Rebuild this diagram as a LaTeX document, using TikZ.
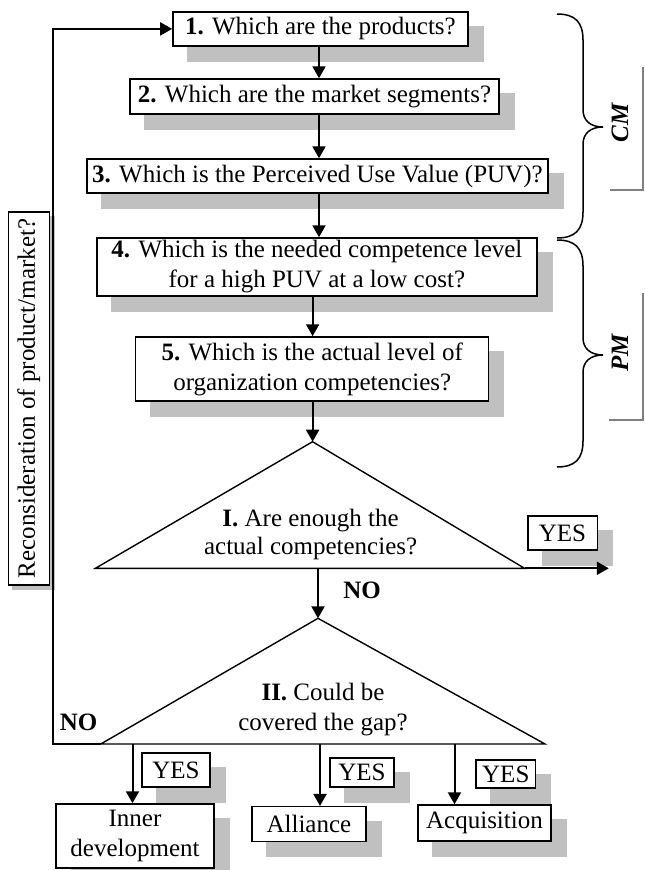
\documentclass[tikz,border=0pt]{standalone}
\usepackage{fontspec}
\setmainfont{Liberation Serif}
\usetikzlibrary{arrows.meta,backgrounds}
\definecolor{shadowgray}{RGB}{192,192,192}
\definecolor{labelgray}{RGB}{128,128,128}
\begin{document}
\begin{tikzpicture}[x=1pt,y=-1pt,
  txt/.style={font=\fontsize{25}{30}\selectfont, align=center},
  box/.style={txt, draw, fill=white, line width=1.5pt, inner sep=0pt},
  arr/.style={line width=2pt, -{Triangle[length=12pt,width=13pt]}},
  tri/.style={line width=1.4pt, line join=miter},
  bracestyle/.style={line width=1.5pt},
  lbl/.style={font=\fontsize{25}{30}\selectfont\bfseries\itshape},
  nolbl/.style={font=\fontsize{25}{30}\selectfont\bfseries},
]
\useasboundingbox (0,0) rectangle (645,870);

% process boxes
\node[box, minimum width=295pt, minimum height=34pt] (b1) at (320.4,28.9) {\textbf{1.} Which are the products?};
\node[box, minimum width=369pt, minimum height=35pt] (b2) at (314.5,96.5) {\textbf{2.} Which are the market segments?};
\node[box, minimum width=461pt, minimum height=34pt] (b3) at (317.4,176) {\textbf{3.} Which is the Perceived Use Value (PUV)?};
\node[box, minimum width=440pt, minimum height=58pt] (b4) at (316.9,267) {\textbf{4.} Which is the needed competence level\\for a high PUV at a low cost?};
\node[box, minimum width=353pt, minimum height=64pt] (b5) at (312.2,369) {\textbf{5.} Which is the actual level of\\organization competencies?};

% reconsideration box
\node[box, rotate=90, minimum width=373pt, minimum height=41pt] (rec) at (28.8,398.5) {Reconsideration of product/market?};

% YES boxes
\node[box, minimum width=69.5pt, minimum height=34.3pt] (yesI) at (562.5,532.9) {YES};
\node[box, minimum width=68pt, minimum height=34.3pt] (y1) at (176,769.9) {YES};
\node[box, minimum width=63.7pt, minimum height=29.3pt] (y2) at (361.9,772.4) {YES};
\node[box, minimum width=59.6pt, minimum height=28pt] (y3) at (505.8,774) {YES};

% outcome boxes
\node[box, minimum width=158pt, minimum height=64pt] (inner) at (135,836) {Inner\\development};
\node[box, minimum width=114.3pt, minimum height=35pt] (alli) at (308.9,824.2) {Alliance};
\node[box, minimum width=133pt, minimum height=35.7pt] (acq) at (484.5,822.9) {Acquisition};

% shadows
\begin{scope}[on background layer]
  \foreach \n in {b1,b2,b3,b4,b5,yesI,y1,y2,y3,inner,alli,acq} {
    \fill[shadowgray] ([shift={(15pt,-15pt)}]\n.south west) rectangle ([shift={(15pt,-15pt)}]\n.north east);
  }
  \fill[shadowgray] ([shift={(4.5pt,-4.5pt)}]rec.south west) rectangle ([shift={(4.5pt,-4.5pt)}]rec.north east);
\end{scope}

% decision triangles
\coordinate (tIa) at (312.6,441.7);
\coordinate (tIl) at (95.4,568.3);
\coordinate (tIr) at (524.5,568.3);
\draw[tri] (tIa) -- (tIl) -- (tIr) -- cycle;
\node[txt, font=\fontsize{25}{28}\selectfont] (tIt) at (310.6,534) {\textbf{I.} Are enough the\\actual competencies?};

\coordinate (tIIa) at (318,618.3);
\coordinate (tIIl) at (100.8,744);
\coordinate (tIIr) at (545,744);
\draw[tri] (tIIa) -- (tIIl) -- (tIIr) -- cycle;
\node[txt] (tIIt) at (323,710) {\textbf{II.} Could be\\covered the gap?};

% main flow arrows
\coordinate (ax) at (319,0);
\draw[arr] (b1.south -| ax) -- (b2.north -| ax);
\draw[arr] (b2.south -| ax) -- (b3.north -| ax);
\draw[arr] (b3.south -| ax) -- (b4.north -| ax);
\draw[arr] (b4.south -| tIa) -- (b5.north -| tIa);
\draw[arr] (b5.south -| tIa) -- (tIa);
\draw[arr] (tIIa |- tIl) -- (tIIa);

% YES exit
\coordinate (yesEnd) at (608.8,568.3);
\draw[arr] (tIr) -- (yesEnd);

% loop back
\coordinate (loopB) at (53.3,744);
\draw[arr, line join=miter] (tIIl) -- (loopB) -- (loopB |- b1.west) -- (b1.west);

% outcome arrows
\coordinate (d1) at (132.5,744);
\coordinate (d2) at (320,744);
\coordinate (d3) at (454.5,744);
\draw[arr] (d1) -- (d1 |- inner.north);
\draw[arr] (d2) -- (d2 |- alli.north);
\draw[arr] (d3) -- (d3 |- acq.north);

% NO labels
\node[nolbl] (no1) at (362,590) {NO};
\node[nolbl] (no2) at (78.5,722.7) {NO};

% braces
\draw[bracestyle] (557,14) .. controls (575,14) and (583,22) .. (583,40) -- (583,110)
  .. controls (583,120) and (590,127) .. (603,127)
  .. controls (590,127) and (583,134) .. (583,144) -- (583,212)
  .. controls (583,230) and (575,238) .. (557,238);
\draw[bracestyle] (557,240) .. controls (575,240) and (583,248) .. (583,266) -- (583,338)
  .. controls (583,348) and (590,355) .. (603,355)
  .. controls (590,355) and (583,362) .. (583,372) -- (583,441)
  .. controls (583,459) and (575,467) .. (557,467);

% CM / PM labels
\node[lbl, rotate=90] (cm) at (620,123) {CM};
\node[lbl, rotate=90] (pm) at (620,353) {PM};
\draw[labelgray, line width=2.7pt] (610,190) -- (643,190) -- (643,67);
\draw[labelgray, line width=2.7pt] (609,420) -- (643,420) -- (643,293);
\end{tikzpicture}
\end{document}
